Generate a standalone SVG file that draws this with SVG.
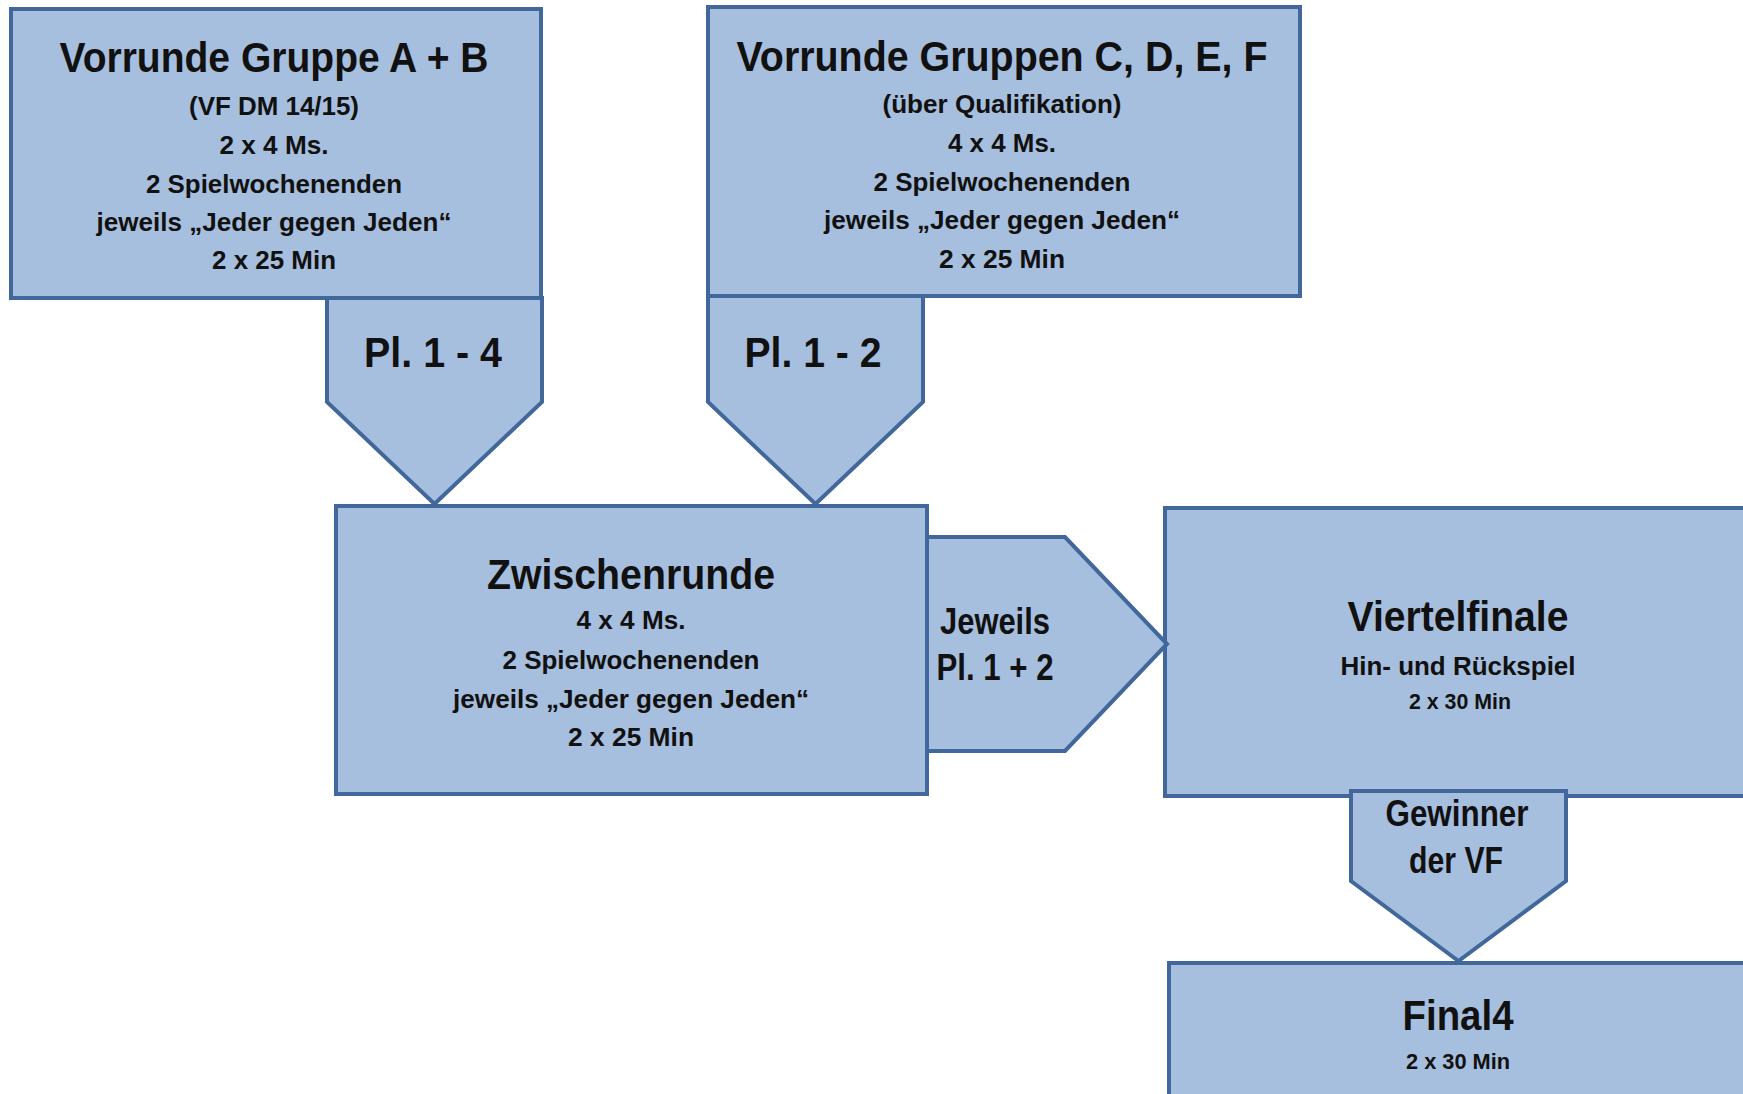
<svg xmlns="http://www.w3.org/2000/svg" width="1743" height="1094" viewBox="0 0 1743 1094">
<style>
.box{fill:#A7BFDE;stroke:#41679B;stroke-width:4}
text{font-family:"Liberation Sans",Arial,sans-serif;font-weight:bold;fill:#111;text-anchor:middle}
.t{font-size:43px}
.s{font-size:26.5px}
.m{font-size:37px}
.x{font-size:22px}
</style>
<rect width="1743" height="1094" fill="#fff"/>
<g id="node-vorrunde-ab">
<rect class="box" x="11" y="9" width="530" height="289"/>
<text class="t" x="274" y="72" textLength="429" lengthAdjust="spacingAndGlyphs">Vorrunde Gruppe A + B</text>
<text class="s" x="274" y="115" textLength="170" lengthAdjust="spacingAndGlyphs">(VF DM 14/15)</text>
<text class="s" x="274" y="154" textLength="109" lengthAdjust="spacingAndGlyphs">2 x 4 Ms.</text>
<text class="s" x="274" y="193" textLength="256" lengthAdjust="spacingAndGlyphs">2 Spielwochenenden</text>
<text class="s" x="274" y="231" textLength="355" lengthAdjust="spacingAndGlyphs">jeweils „Jeder gegen Jeden“</text>
<text class="s" x="274" y="269" textLength="124" lengthAdjust="spacingAndGlyphs">2 x 25 Min</text>
</g>
<g id="node-vorrunde-cdef">
<rect class="box" x="708" y="7" width="592" height="289"/>
<text class="t" x="1002" y="71" textLength="531" lengthAdjust="spacingAndGlyphs">Vorrunde Gruppen C, D, E, F</text>
<text class="s" x="1002" y="113" textLength="239" lengthAdjust="spacingAndGlyphs">(über Qualifikation)</text>
<text class="s" x="1002" y="152" textLength="108" lengthAdjust="spacingAndGlyphs">4 x 4 Ms.</text>
<text class="s" x="1002" y="191" textLength="257" lengthAdjust="spacingAndGlyphs">2 Spielwochenenden</text>
<text class="s" x="1002" y="229" textLength="356" lengthAdjust="spacingAndGlyphs">jeweils „Jeder gegen Jeden“</text>
<text class="s" x="1002" y="268" textLength="126" lengthAdjust="spacingAndGlyphs">2 x 25 Min</text>
</g>
<g id="node-zwischenrunde">
<rect class="box" x="336" y="506" width="591" height="288"/>
<text class="t" x="631" y="589" textLength="288" lengthAdjust="spacingAndGlyphs">Zwischenrunde</text>
<text class="s" x="631" y="629" textLength="109" lengthAdjust="spacingAndGlyphs">4 x 4 Ms.</text>
<text class="s" x="631" y="669" textLength="257" lengthAdjust="spacingAndGlyphs">2 Spielwochenenden</text>
<text class="s" x="631" y="708" textLength="356" lengthAdjust="spacingAndGlyphs">jeweils „Jeder gegen Jeden“</text>
<text class="s" x="631" y="746" textLength="126" lengthAdjust="spacingAndGlyphs">2 x 25 Min</text>
</g>
<g id="node-viertelfinale">
<rect class="box" x="1165" y="508" width="600" height="288"/>
<text class="t" x="1458" y="631" textLength="221" lengthAdjust="spacingAndGlyphs">Viertelfinale</text>
<text class="s" x="1458" y="675" textLength="235" lengthAdjust="spacingAndGlyphs">Hin- und Rückspiel</text>
<text class="x" x="1460" y="709" textLength="102" lengthAdjust="spacingAndGlyphs">2 x 30 Min</text>
</g>
<g id="node-final4">
<rect class="box" x="1169" y="963" width="600" height="200"/>
<text class="t" x="1458" y="1030" textLength="111" lengthAdjust="spacingAndGlyphs">Final4</text>
<text class="x" x="1458" y="1069" textLength="104" lengthAdjust="spacingAndGlyphs">2 x 30 Min</text>
</g>
<g id="connectors">
<g id="conn-ab-zr">
<path class="box" d="M327,298 H542 V402 L434.5,504 L327,402 Z"/>
<text class="t" x="433" y="367" textLength="138" lengthAdjust="spacingAndGlyphs">Pl. 1 - 4</text>
</g>
<g id="conn-cdef-zr">
<path class="box" d="M708,296 H923 V402 L815.5,504 L708,402 Z"/>
<text class="t" x="813" y="367" textLength="137" lengthAdjust="spacingAndGlyphs">Pl. 1 - 2</text>
</g>
<g id="conn-zr-vf">
<path class="box" d="M927,537 H1065 L1167,644 L1065,751 H927 Z"/>
<text class="m" x="995" y="634" textLength="110" lengthAdjust="spacingAndGlyphs">Jeweils</text>
<text class="m" x="995" y="680" textLength="117" lengthAdjust="spacingAndGlyphs">Pl. 1 + 2</text>
</g>
<g id="conn-vf-f4">
<path class="box" d="M1351,791 H1566 V881 L1458.5,961 L1351,881 Z"/>
<text class="m" x="1457" y="826" textLength="143" lengthAdjust="spacingAndGlyphs">Gewinner</text>
<text class="m" x="1456" y="873" textLength="94" lengthAdjust="spacingAndGlyphs">der VF</text>
</g>
</g>
</svg>
